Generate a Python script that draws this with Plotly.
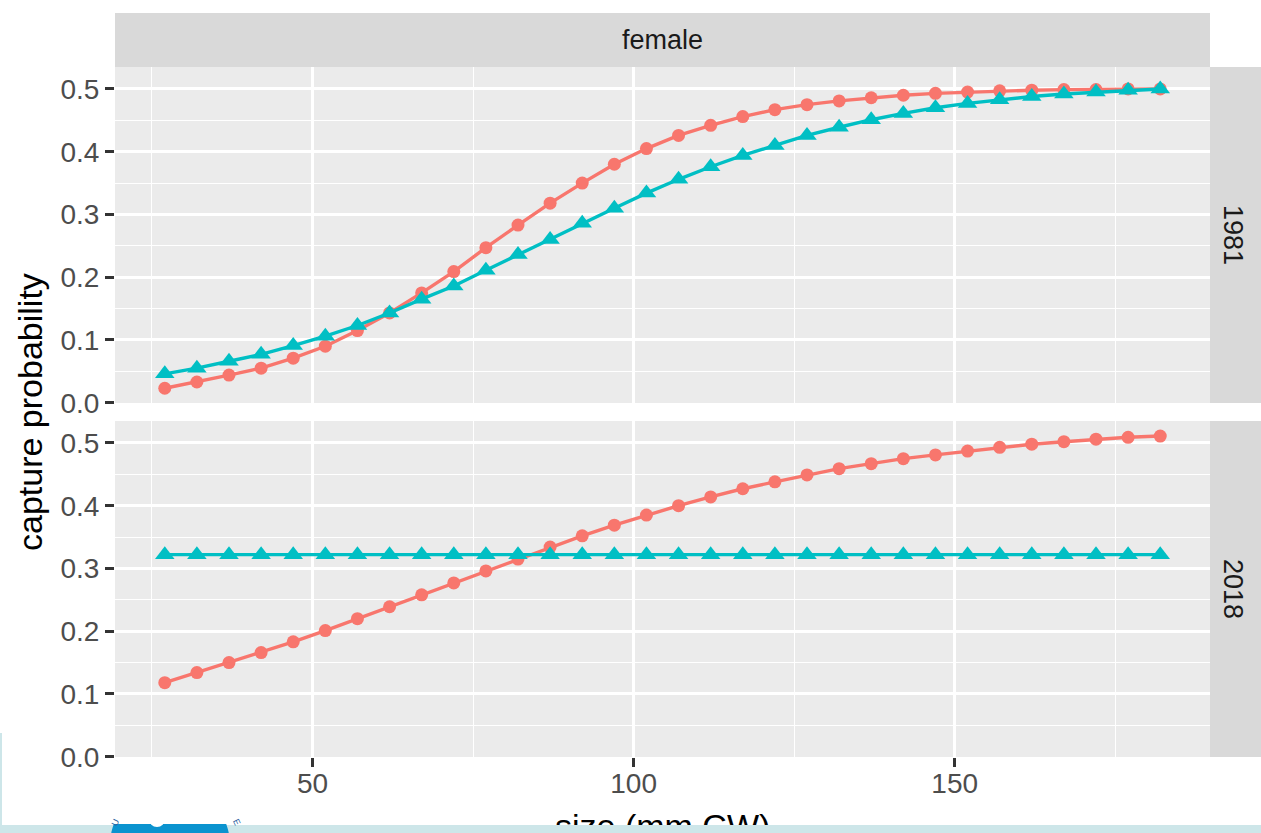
import numpy as np
import plotly.graph_objects as go

# ---- data -------------------------------------------------------------
size_mm = [27, 32, 37, 42, 47, 52, 57, 62, 67, 72, 77, 82, 87, 92, 97, 102,
           107, 112, 117, 122, 127, 132, 137, 142, 147, 152, 157, 162, 167,
           172, 177, 182]

p1981_a = [0.023, 0.033, 0.044, 0.055, 0.071, 0.090, 0.115, 0.143, 0.175,
           0.209, 0.247, 0.283, 0.318, 0.350, 0.380, 0.405, 0.426, 0.442,
           0.456, 0.467, 0.475, 0.481, 0.486, 0.490, 0.493, 0.495, 0.497,
           0.498, 0.499, 0.499, 0.500, 0.500]
p1981_b = [0.046, 0.055, 0.066, 0.077, 0.091, 0.106, 0.123, 0.143, 0.165,
           0.186, 0.211, 0.236, 0.260, 0.286, 0.310, 0.334, 0.356, 0.376,
           0.394, 0.410, 0.426, 0.439, 0.451, 0.461, 0.470, 0.477, 0.483,
           0.488, 0.492, 0.495, 0.498, 0.500]

p2018_a = [0.118, 0.134, 0.150, 0.166, 0.183, 0.201, 0.220, 0.239, 0.258,
           0.277, 0.296, 0.315, 0.334, 0.352, 0.369, 0.385, 0.400, 0.414,
           0.427, 0.438, 0.449, 0.459, 0.467, 0.475, 0.481, 0.487, 0.493,
           0.498, 0.502, 0.506, 0.509, 0.511]
p2018_b = [0.322, 0.322, 0.322, 0.322, 0.322, 0.322, 0.322, 0.322, 0.322,
           0.322, 0.322, 0.322, 0.322, 0.322, 0.322, 0.322, 0.322, 0.322,
           0.322, 0.322, 0.322, 0.322, 0.322, 0.322, 0.322, 0.322, 0.322,
           0.322, 0.322, 0.322, 0.322, 0.322]

x_ticks = [50, 100, 150]
x_minor = [25, 75, 125, 175]
y_ticks = [0.0, 0.1, 0.2, 0.3, 0.4, 0.5]
y_minor = [0.05, 0.15, 0.25, 0.35, 0.45]
col_label = "female"
row_labels = ["1981", "2018"]

# ---- styling ----------------------------------------------------------
RED = "#F8766D"
CYAN = "#00BFC4"
PANEL = "#EBEBEB"
STRIP = "#D9D9D9"
BAND = "#CDE6E9"
LOGO = "#0B93CF"
FONT = "Liberation Sans, Arial, Helvetica, sans-serif"

W_FIG, H_FIG = 1261, 833
M_L, M_R, M_T, M_B = 115, 51, 67, 76
PW = W_FIG - M_L - M_R
PH = H_FIG - M_T - M_B


def fx(px):
    """pixel column -> paper x"""
    return (px - M_L) / PW


def fy(py):
    """pixel row -> paper y"""
    return (H_FIG - M_B - py) / PH


top_dom = [fy(403), 1.0]
bot_dom = [0.0, fy(421)]

fig = go.Figure()


def add_pair(ya, yb, xa, yax):
    fig.add_trace(go.Scatter(
        x=size_mm, y=ya, mode="lines+markers", xaxis=xa, yaxis=yax,
        line=dict(color=RED, width=3.4),
        marker=dict(symbol="circle", size=13, color=RED),
        hoverinfo="skip"))
    fig.add_trace(go.Scatter(
        x=size_mm, y=yb, mode="lines+markers", xaxis=xa, yaxis=yax,
        line=dict(color=CYAN, width=3.4),
        marker=dict(symbol="triangle-up", size=17, color=CYAN),
        hoverinfo="skip"))


add_pair(p1981_a, p1981_b, "x2", "y2")
add_pair(p2018_a, p2018_b, "x", "y")

x_common = dict(
    range=[19.25, 189.75], tickmode="array", tickvals=x_ticks,
    showgrid=True, gridcolor="white", gridwidth=2.6,
    minor=dict(tickmode="array", tickvals=x_minor, showgrid=True,
               gridcolor="white", gridwidth=1.3, ticks=""),
    zeroline=False, showline=False, automargin=False, fixedrange=True,
)
y_common = dict(
    range=[-0.0005, 0.535], tickmode="array", tickvals=y_ticks,
    tickformat=".1f", ticks="outside", ticklen=9, tickwidth=2.5,
    tickcolor="#333333", tickfont=dict(size=28, color="#4D4D4D"),
    showgrid=True, gridcolor="white", gridwidth=2.6,
    minor=dict(tickmode="array", tickvals=y_minor, showgrid=True,
               gridcolor="white", gridwidth=1.3, ticks=""),
    zeroline=False, showline=False, automargin=False, fixedrange=True,
)

fig.update_layout(
    xaxis=dict(**x_common, anchor="y", ticks="outside", ticklen=9,
               tickwidth=2.5, tickcolor="#333333", ticklabelstandoff=-8,
               tickfont=dict(size=28, color="#4D4D4D")),
    xaxis2=dict(**x_common, anchor="y2", matches="x", ticks="",
                showticklabels=False),
    yaxis=dict(**y_common, domain=bot_dom, anchor="x"),
    yaxis2=dict(**y_common, domain=top_dom, anchor="x2"),
)

# facet strips
shapes = [
    dict(type="rect", xref="paper", yref="paper", x0=0, x1=1,
         y0=1, y1=fy(13), fillcolor=STRIP, line=dict(width=0), layer="below"),
    dict(type="rect", xref="paper", yref="paper", x0=1, x1=1.08,
         y0=top_dom[0], y1=top_dom[1], fillcolor=STRIP, line=dict(width=0),
         layer="below"),
    dict(type="rect", xref="paper", yref="paper", x0=1, x1=1.08,
         y0=bot_dom[0], y1=bot_dom[1], fillcolor=STRIP, line=dict(width=0),
         layer="below"),
    # slide footer band and side edge
    dict(type="rect", xref="paper", yref="paper", x0=fx(-5), x1=fx(1270),
         y0=fy(840), y1=fy(825), fillcolor=BAND, line=dict(width=0),
         layer="above"),
    dict(type="rect", xref="paper", yref="paper", x0=fx(-5), x1=fx(2),
         y0=fy(825), y1=fy(733), fillcolor=BAND, line=dict(width=0),
         layer="above"),
]

# footer seal: lower part of a disc below the chart edge
cx, cy, r, clip_y = 170.0, 845.0, 60.0, 824.0
t0 = -np.arcsin((cy - clip_y) / r)
ts = np.linspace(t0, np.pi - t0, 60)
pts = [(fx(cx + r * np.cos(t)), fy(cy + r * np.sin(t))) for t in ts]
path = "M " + " L ".join(f"{a:.5f},{b:.5f}" for a, b in pts) + " Z"
shapes.append(dict(type="path", xref="paper", yref="paper", path=path,
                   fillcolor=LOGO, line=dict(width=0), layer="above"))
shapes.append(dict(type="circle", xref="paper", yref="paper",
                   x0=fx(149), x1=fx(165), y0=fy(827), y1=fy(811),
                   fillcolor="white", line=dict(width=0), layer="above"))

annotations = [
    dict(text="capture probability", textangle=-90, xref="paper",
         yref="paper", x=fx(30), y=fy(412), xanchor="center",
         yanchor="middle", showarrow=False, borderpad=0,
         font=dict(size=34, color="black")),
    dict(text="size (mm CW)", xref="paper", yref="paper", x=fx(662.5),
         y=fy(805.5), xanchor="center", yanchor="top", showarrow=False,
         borderpad=0, font=dict(size=34, color="black")),
    # footer band overlapping the bottom of the x title
    dict(text=" ", xref="paper", yref="paper", x=fx(662), y=fy(825),
         xanchor="center", yanchor="top", width=360, height=14,
         bgcolor=BAND, borderwidth=0, borderpad=0, showarrow=False),
    dict(text=col_label, xref="paper", yref="paper", x=0.5, y=fy(40),
         xanchor="center", yanchor="middle", showarrow=False,
         font=dict(size=27, color="#1A1A1A")),
    dict(text=row_labels[0], textangle=90, xref="paper", yref="paper",
         x=fx(1233), y=(top_dom[0] + top_dom[1]) / 2, xanchor="center",
         yanchor="middle", showarrow=False,
         font=dict(size=27, color="#1A1A1A")),
    dict(text=row_labels[1], textangle=90, xref="paper", yref="paper",
         x=fx(1233), y=(bot_dom[0] + bot_dom[1]) / 2, xanchor="center",
         yanchor="middle", showarrow=False,
         font=dict(size=27, color="#1A1A1A")),
    dict(text="U", textangle=-65, xref="paper", yref="paper", x=fx(107),
         y=fy(830), showarrow=False, font=dict(size=9, color="#2F5FA0")),
    dict(text="E", textangle=65, xref="paper", yref="paper", x=fx(229),
         y=fy(830), showarrow=False, font=dict(size=9, color="#2F5FA0")),
]

fig.update_layout(
    width=W_FIG, height=H_FIG,
    margin=dict(l=M_L, r=M_R, t=M_T, b=M_B, pad=0),
    paper_bgcolor="white", plot_bgcolor=PANEL,
    font=dict(family=FONT, color="#4D4D4D"),
    showlegend=False, hovermode=False,
    shapes=shapes, annotations=annotations,
)

fig.write_html("out.html", config={"displayModeBar": False})
